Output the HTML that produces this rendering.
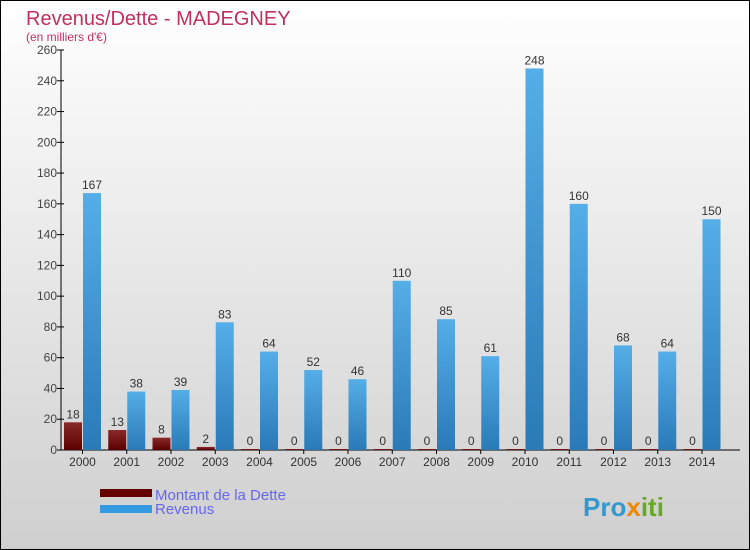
<!DOCTYPE html>
<html><head><meta charset="utf-8"><style>
body{margin:0;}
#c{width:750px;height:550px;position:relative;overflow:hidden;}
text{font-family:"Liberation Sans",sans-serif;}
</style></head><body>
<div id="c">
<svg id="s" width="750" height="550" xmlns="http://www.w3.org/2000/svg">
<defs>
<linearGradient id="bg" x1="0" y1="0" x2="0" y2="1"><stop offset="0" stop-color="#ffffff"/><stop offset="1" stop-color="#cfcfcf"/></linearGradient>
<linearGradient id="gd" x1="0" y1="0" x2="0" y2="1"><stop offset="0" stop-color="#8a2a2a"/><stop offset="1" stop-color="#5a0000"/></linearGradient>
<linearGradient id="gr" x1="0" y1="0" x2="0" y2="1"><stop offset="0" stop-color="#55aee8"/><stop offset="1" stop-color="#2a7ab8"/></linearGradient>
</defs>
<rect x="0.5" y="0.5" width="749" height="549" fill="url(#bg)" stroke="#000"/>
<text x="26" y="25" font-size="20" fill="#c0305e">Revenus/Dette - MADEGNEY</text>
<text x="26" y="41" font-size="12" fill="#c0305e">(en milliers d'€)</text>
<g id="plot"></g>
<rect x="100" y="489" width="52" height="8" fill="#660000"/>
<rect x="100" y="505" width="52" height="8" fill="#3399e0"/>
<text x="155" y="500" font-size="15" fill="#6666ee">Montant de la Dette</text>
<text x="155" y="514" font-size="15" fill="#6666ee">Revenus</text>
<text x="583" y="516" font-size="26" font-weight="bold" fill="#3399cc">Pro<tspan fill="#ee8800">x</tspan><tspan fill="#66aa22">iti</tspan></text>
</svg>
</div>
<script>
const categories=["2000","2001","2002","2003","2004","2005","2006","2007","2008","2009","2010","2011","2012","2013","2014"];
const dette=[18,13,8,2,0,0,0,0,0,0,0,0,0,0,0];
const revenus=[167,38,39,83,64,52,46,110,85,61,248,160,68,64,150];
const yTicks=[0,20,40,60,80,100,120,140,160,180,200,220,240,260];
const NS="http://www.w3.org/2000/svg";
const g=document.getElementById('plot');
const x0=61,x1=740,yb=450,yt=50,ymax=260;
const step=44.25;
function y(v){return yb-(v/ymax)*(yb-yt);}
function cx(i){return 82.5+i*step;}
function mk(t,a){const e=document.createElementNS(NS,t);for(const k in a)e.setAttribute(k,a[k]);g.appendChild(e);return e;}
let ax=mk('line',{x1:x0,y1:yt,x2:x0,y2:yb,stroke:'#000'});


let bx=mk('line',{x1:x0,y1:yb,x2:x1,y2:yb,stroke:'#000'});


yTicks.forEach(v=>{
 let t=mk('line',{x1:x0-4,y1:y(v),x2:x0+3,y2:y(v),stroke:'#000'});
 
 
 let l=mk('text',{x:x0-4,y:y(v)+4,'font-size':12,fill:'#444','text-anchor':'end'});
 l.textContent=v;
 
 
});
categories.forEach((c,i)=>{
 const c0=cx(i);
 let t=mk('line',{x1:c0,y1:yb,x2:c0,y2:yb+4,stroke:'#000'});
 
 
 let l=mk('text',{x:c0,y:yb+16,'font-size':12,fill:'#333','text-anchor':'middle'});
 l.textContent=c;
 
 
 let d=mk('rect',{x:c0-18.5,y:y(dette[i]),width:18,height:Math.max(yb-y(dette[i]),dette[i]==0?1:0),fill:'url(#gd)'});
 if(dette[i]==0)d.setAttribute('y',yb-1);
 
 
 let dl=mk('text',{x:c0-9.5,y:(dette[i]==0?yb-1:y(dette[i]))-4,'font-size':12,fill:'#333','text-anchor':'middle'});
 dl.textContent=dette[i];
 
 
 let r=mk('rect',{x:c0+0.5,y:y(revenus[i]),width:18,height:yb-y(revenus[i]),fill:'url(#gr)'});
 
 
 let rl=mk('text',{x:c0+9.5,y:y(revenus[i])-4,'font-size':12,fill:'#333','text-anchor':'middle'});
 rl.textContent=revenus[i];
 
 
});
</script>
</body></html>
